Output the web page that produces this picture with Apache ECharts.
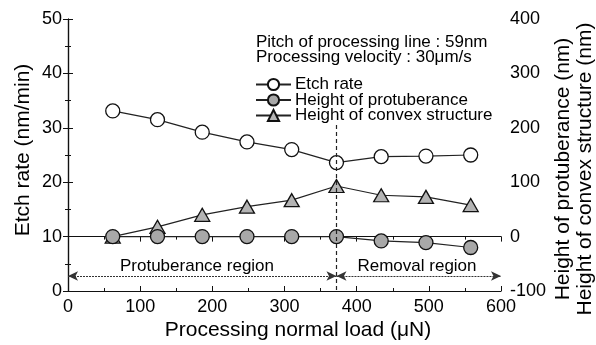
<!DOCTYPE html>
<html>
<head>
<meta charset="utf-8">
<script src="https://cdn.jsdelivr.net/npm/echarts@6/dist/echarts.min.js"></script>
<style>
html,body{margin:0;padding:0;background:#fff;}
#chart{width:596px;height:345px;}
</style>
</head>
<body>
<div id="chart"></div>
<script>
var loads = [62, 124, 186, 248, 310, 372, 434, 496, 558];
var etchRate = [33.1, 31.5, 29.2, 27.4, 26.0, 23.6, 24.7, 24.8, 25.0];
var protuberance = [0, 0, 0, 0, 0, 0, -8, -11, -20];
var convex = [0, 18, 40, 55, 67, 93, 76, 73, 58];
var boundaryLoad = 372;
var xTicks = [0, 100, 200, 300, 400, 500, 600];
var leftTicks = [0, 10, 20, 30, 40, 50];
var rightTicks = [-100, 0, 100, 200, 300, 400];

function pairs(xs, ys){ return xs.map(function(x,i){ return [x, ys[i]]; }); }

var FONT = '"Liberation Sans", Arial, sans-serif';
var chart = echarts.init(document.getElementById('chart'));
var axisCommon = {
  axisLine: {show: true, lineStyle: {color: '#111', width: 1.2}},
  axisTick: {show: true, inside: true, length: 5, lineStyle: {color: '#111'}},
  minorTick: {show: true, splitNumber: 2, length: 3, lineStyle: {color: '#111'}},
  splitLine: {show: false},
  minorSplitLine: {show: false}
};
var option = {
  animation: false,
  backgroundColor: '#fff',
  textStyle: {fontFamily: FONT, color: '#000'},
  grid: {left: 68, right: 95, top: 19, bottom: 54, containLabel: false},
  xAxis: [
    Object.assign({
      type: 'value', position: 'bottom', min: xTicks[0], max: xTicks[xTicks.length-1], interval: 100,
      axisLabel: {fontSize: 18, color: '#000', margin: 7, fontFamily: FONT}
    }, axisCommon),
    Object.assign({
      type: 'value', position: 'top', min: xTicks[0], max: xTicks[xTicks.length-1], interval: 100,
      axisLabel: {show: false}
    }, axisCommon)
  ],
  yAxis: [
    Object.assign({
      type: 'value', position: 'left', min: leftTicks[0], max: leftTicks[leftTicks.length-1], interval: 10,
      axisLabel: {fontSize: 18, color: '#000', margin: 6, fontFamily: FONT}
    }, axisCommon),
    Object.assign({
      type: 'value', position: 'right', min: rightTicks[0], max: rightTicks[rightTicks.length-1], interval: 100,
      axisLabel: {fontSize: 18, color: '#000', margin: 9, fontFamily: FONT}
    }, axisCommon)
  ],
  legend: {
    data: ['Etch rate', 'Height of protuberance', 'Height of convex structure'],
    orient: 'vertical', left: 255, top: 76, padding: 0,
    itemWidth: 35, itemHeight: 14, itemGap: -1.5,
    textStyle: {fontSize: 17, color: '#000', fontFamily: FONT, padding: [0,0,0,-1]},
    selectedMode: false
  },
  series: [
    {
      name: 'Etch rate', type: 'line', xAxisIndex: 0, yAxisIndex: 0,
      data: pairs(loads, etchRate),
      symbol: 'circle', symbolSize: 14,
      itemStyle: {color: '#fff', borderColor: '#111', borderWidth: 1.3},
      lineStyle: {color: '#222', width: 1.2},
      z: 3,
      markLine: {
        silent: true, animation: false,
        label: {show: false},
        lineStyle: {color: '#222', width: 1.2, type: [4, 3]},
        symbol: ['none', 'none'],
        data: [
          [{coord: [boundaryLoad, 30.5], symbol: 'none'}, {coord: [boundaryLoad, 0], symbol: 'none'}],
          [{coord: [0, 2.76], symbol: 'arrow', symbolSize: [7, 10], lineStyle: {type: [2, 1], width: 1.2, color: '#333'}},
           {coord: [boundaryLoad, 2.76], symbol: 'arrow', symbolSize: [7, 10], lineStyle: {type: [2, 1], width: 1.2, color: '#333'}}],
          [{coord: [boundaryLoad, 2.76], symbol: 'arrow', symbolSize: [7, 10], lineStyle: {type: [2, 1], width: 1.2, color: '#333'}},
           {coord: [600, 2.76], symbol: 'arrow', symbolSize: [7, 10], lineStyle: {type: [2, 1], width: 1.2, color: '#333'}}]
        ]
      }
    },
    {
      name: 'Height of convex structure', type: 'line', xAxisIndex: 0, yAxisIndex: 1,
      data: pairs(loads, convex),
      symbol: 'triangle', symbolSize: [15, 13],
      itemStyle: {color: '#b4b4b4', borderColor: '#111', borderWidth: 1.3},
      lineStyle: {color: '#222', width: 1.2},
      z: 3
    },
    {
      name: 'Height of protuberance', type: 'line', xAxisIndex: 0, yAxisIndex: 1,
      data: pairs(loads, protuberance),
      symbol: 'circle', symbolSize: 14,
      itemStyle: {color: '#a8a8a8', borderColor: '#111', borderWidth: 1.3},
      lineStyle: {color: '#222', width: 1.2},
      z: 4
    }
  ],
  graphic: [
    {type: 'text', left: 256, top: 34, style: {text: 'Pitch of processing line : 59nm', font: '17px ' + FONT, fill: '#000'}},
    {type: 'text', left: 256, top: 49, style: {text: 'Processing velocity : 30μm/s', font: '17px ' + FONT, fill: '#000'}},
    {type: 'text', x: 197, y: 266, style: {text: 'Protuberance region', font: '17px ' + FONT, fill: '#000', align: 'center', verticalAlign: 'middle'}},
    {type: 'text', x: 417, y: 266, style: {text: 'Removal region', font: '17px ' + FONT, fill: '#000', align: 'center', verticalAlign: 'middle'}},
    {type: 'text', x: 298, y: 330, style: {text: 'Processing normal load (μN)', font: '21px ' + FONT, fill: '#000', align: 'center', verticalAlign: 'middle'}},
    {type: 'text', x: 23, y: 150, rotation: Math.PI/2, style: {text: 'Etch rate (nm/min)', font: '21px ' + FONT, fill: '#000', align: 'center', verticalAlign: 'middle'}},
    {type: 'text', x: 563, y: 169, rotation: Math.PI/2, style: {text: 'Height of protuberance (nm)', font: '21px ' + FONT, fill: '#000', align: 'center', verticalAlign: 'middle'}},
    {type: 'text', x: 585, y: 169, rotation: Math.PI/2, style: {text: 'Height of convex structure (nm)', font: '21px ' + FONT, fill: '#000', align: 'center', verticalAlign: 'middle'}}
  ]
};
chart.setOption(option);
</script>
</body>
</html>
